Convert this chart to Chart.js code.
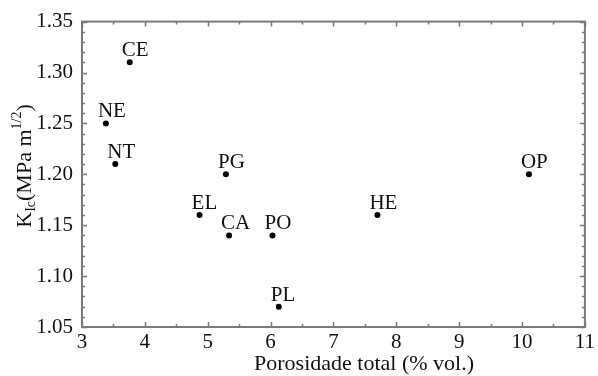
<!DOCTYPE html>
<html>
<head>
<meta charset="utf-8">
<script src="https://cdn.jsdelivr.net/npm/chart.js@4/dist/chart.umd.min.js"></script>
<style>
  html, body { margin: 0; padding: 0; background: #fff; }
</style>
</head>
<body>
<canvas id="chart" width="598" height="376"></canvas>
<script>
// dados
const amostras = ["CE", "NE", "NT", "PG", "EL", "CA", "PO", "PL", "HE", "OP"];
const porosidade = [3.76, 3.38, 3.53, 5.29, 4.87, 5.34, 6.03, 6.13, 7.70, 10.11];
const kic = [1.31, 1.25, 1.21, 1.20, 1.16, 1.14, 1.14, 1.07, 1.16, 1.20];

const xTicks = [3, 4, 5, 6, 7, 8, 9, 10, 11];
const yTicks = [1.05, 1.10, 1.15, 1.20, 1.25, 1.30, 1.35];

const fonte = "Liberation Serif, Times New Roman, serif";
const corEixo = "#7a7a7a";

// moldura, marcas internas, rotulos e titulos
const extras = {
  id: "extras",
  afterDraw(chart) {
    const ctx = chart.ctx;
    const a = chart.chartArea;
    const sx = chart.scales.x;
    const sy = chart.scales.y;
    ctx.save();

    // moldura
    ctx.strokeStyle = corEixo;
    ctx.lineWidth = 2;
    ctx.strokeRect(a.left, a.top, a.right - a.left, a.bottom - a.top);

    // marcas do eixo x
    ctx.lineWidth = 1.5;
    ctx.beginPath();
    for (let i = 0; i <= 16; i++) {
      const v = xTicks[0] + i * 0.5;
      const px = Math.round(sx.getPixelForValue(v)) + 0.5;
      const len = i % 2 === 0 ? 5 : 3;
      ctx.moveTo(px, a.bottom); ctx.lineTo(px, a.bottom - len);
      ctx.moveTo(px, a.top); ctx.lineTo(px, a.top + len);
    }
    // marcas do eixo y
    for (let i = 0; i <= 30; i++) {
      const v = yTicks[0] + i * 0.01;
      const py = Math.round(sy.getPixelForValue(v)) + 0.5;
      const len = i % 5 === 0 ? 5 : 3;
      ctx.moveTo(a.left, py); ctx.lineTo(a.left + len, py);
      ctx.moveTo(a.right, py); ctx.lineTo(a.right - len, py);
    }
    ctx.stroke();

    // rotulos dos pontos
    ctx.fillStyle = "#111";
    ctx.font = "21px " + fonte;
    ctx.textAlign = "left";
    ctx.textBaseline = "alphabetic";
    for (let i = 0; i < amostras.length; i++) {
      const px = sx.getPixelForValue(porosidade[i]);
      const py = sy.getPixelForValue(kic[i]);
      ctx.fillText(amostras[i], px - 8, py - 6);
    }

    // titulo x
    ctx.textAlign = "center";
    ctx.font = "22px " + fonte;
    ctx.fillText("Porosidade total (% vol.)", 364, 370);

    // titulo y (com subscrito e sobrescrito)
    ctx.translate(31, 166);
    ctx.rotate(-Math.PI / 2);
    const partes = [
      { t: "K", f: 22, dy: 0 },
      { t: "Ic", f: 14, dy: 4 },
      { t: "(MPa m", f: 22, dy: 0 },
      { t: "1/2", f: 14, dy: -10 },
      { t: ")", f: 22, dy: 0 }
    ];
    let total = 0;
    partes.forEach(p => {
      ctx.font = p.f + "px " + fonte;
      p.w = ctx.measureText(p.t).width;
      total += p.w;
    });
    let x = -total / 2;
    ctx.textAlign = "left";
    partes.forEach(p => {
      ctx.font = p.f + "px " + fonte;
      ctx.fillText(p.t, x, p.dy);
      x += p.w;
    });
    ctx.restore();
  }
};

new Chart(document.getElementById("chart"), {
  type: "scatter",
  data: {
    datasets: [{
      label: "KIc",
      data: porosidade.map((v, i) => ({ x: v, y: kic[i] })),
      backgroundColor: "#000",
      borderWidth: 0,
      pointRadius: 3
    }]
  },
  options: {
    responsive: false,
    animation: false,
    layout: { padding: { top: 20, right: 12, left: 0, bottom: 0 } },
    plugins: { legend: { display: false }, tooltip: { enabled: false } },
    scales: {
      x: {
        type: "linear",
        min: 3,
        max: 11,
        afterBuildTicks: s => { s.ticks = xTicks.map(v => ({ value: v })); },
        afterFit: s => { s.height = 49; },
        ticks: { color: "#111", font: { family: fonte, size: 21 }, padding: 3 },
        grid: { display: false, drawTicks: false },
        border: { display: false }
      },
      y: {
        type: "linear",
        min: 1.05,
        max: 1.35,
        afterBuildTicks: s => { s.ticks = yTicks.map(v => ({ value: v })); },
        afterFit: s => { s.width = 82; },
        ticks: {
          color: "#111",
          font: { family: fonte, size: 21 },
          padding: 9,
          callback: v => v.toFixed(2)
        },
        grid: { display: false, drawTicks: false },
        border: { display: false }
      }
    }
  },
  plugins: [extras]
});
</script>
</body>
</html>
